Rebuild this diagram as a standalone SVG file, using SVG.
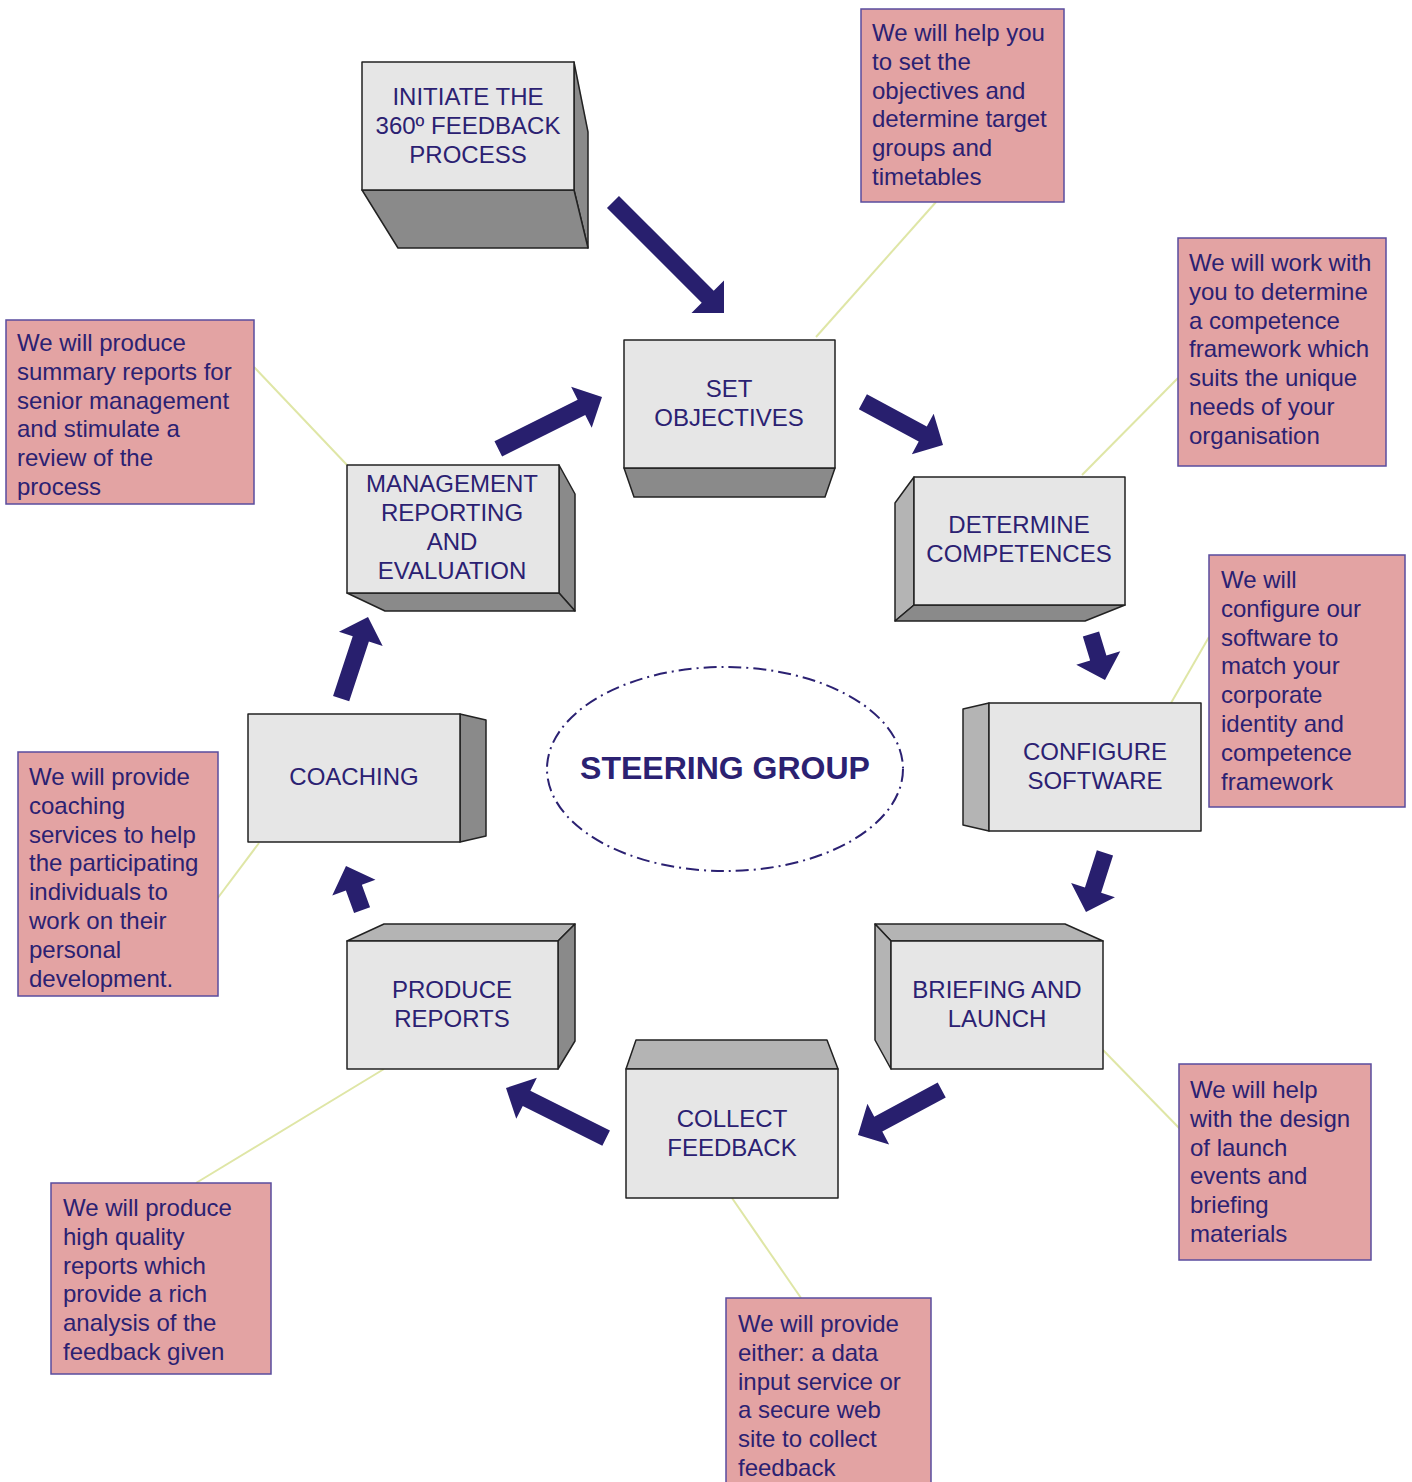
<svg xmlns="http://www.w3.org/2000/svg" width="1412" height="1482" viewBox="0 0 1412 1482">
<style>
.front{fill:#e6e6e6;stroke:#222;stroke-width:1.5;stroke-linejoin:round}
.dark{fill:#8a8a8a;stroke:#222;stroke-width:1.5;stroke-linejoin:round}
.light{fill:#b4b4b4;stroke:#222;stroke-width:1.5;stroke-linejoin:round}
.lbl{font-family:"Liberation Sans",Arial,sans-serif;font-size:24px;fill:#2b2172;text-anchor:middle}
.note rect{fill:#e3a3a3;stroke:#5a4c9e;stroke-width:1.5}
.note text{font-family:"Liberation Sans",Arial,sans-serif;font-size:24px;fill:#2b2172}
.leader{stroke:#dfe6a6;stroke-width:2;fill:none}
.arrow{fill:#281f6e}
</style>
<rect width="1412" height="1482" fill="#fff"/>

<g id="leaders">
<line class="leader" x1="936" y1="202" x2="816" y2="337"/>
<line class="leader" x1="1178" y1="378" x2="1082" y2="475"/>
<line class="leader" x1="1209" y1="637" x2="1171" y2="703"/>
<line class="leader" x1="1103" y1="1050" x2="1181" y2="1130"/>
<line class="leader" x1="732" y1="1198" x2="801" y2="1298"/>
<line class="leader" x1="384" y1="1069" x2="196" y2="1183"/>
<line class="leader" x1="259" y1="843" x2="214" y2="903"/>
<line class="leader" x1="254" y1="367" x2="347" y2="465"/>
</g>

<g id="n-initiate">
<polygon class="dark" points="574,62 588,132 588,248 574,190"/>
<polygon class="dark" points="362,190 574,190 588,248 398,248"/>
<rect class="front" x="362" y="62" width="212" height="128"/>
<text class="lbl" x="468" y="105">INITIATE THE</text>
<text class="lbl" x="468" y="134">360º FEEDBACK</text>
<text class="lbl" x="468" y="163">PROCESS</text>
</g>

<g id="n-set">
<polygon class="dark" points="624,468 835,468 825,497 634,497"/>
<rect class="front" x="624" y="340" width="211" height="128"/>
<text class="lbl" x="729" y="397">SET</text>
<text class="lbl" x="729" y="426">OBJECTIVES</text>
</g>

<g id="n-determine">
<polygon class="light" points="914,477 895,503 895,621 914,605"/>
<polygon class="dark" points="914,605 1125,605 1085,621 895,621"/>
<rect class="front" x="914" y="477" width="211" height="128"/>
<text class="lbl" x="1019" y="533">DETERMINE</text>
<text class="lbl" x="1019" y="562">COMPETENCES</text>
</g>

<g id="n-configure">
<polygon class="light" points="989,703 963,709 963,825 989,831"/>
<rect class="front" x="989" y="703" width="212" height="128"/>
<text class="lbl" x="1095" y="760">CONFIGURE</text>
<text class="lbl" x="1095" y="789">SOFTWARE</text>
</g>

<g id="n-briefing">
<polygon class="light" points="875,924 1065,924 1103,941 891,941"/>
<polygon class="light" points="875,924 891,941 891,1069 875,1040"/>
<rect class="front" x="891" y="941" width="212" height="128"/>
<text class="lbl" x="997" y="998">BRIEFING AND</text>
<text class="lbl" x="997" y="1027">LAUNCH</text>
</g>

<g id="n-collect">
<polygon class="light" points="636,1040 827,1040 838,1069 626,1069"/>
<rect class="front" x="626" y="1069" width="212" height="129"/>
<text class="lbl" x="732" y="1127">COLLECT</text>
<text class="lbl" x="732" y="1156">FEEDBACK</text>
</g>

<g id="n-produce">
<polygon class="light" points="347,941 384,924 575,924 558,941"/>
<polygon class="dark" points="558,941 575,924 575,1041 558,1069"/>
<rect class="front" x="347" y="941" width="211" height="128"/>
<text class="lbl" x="452" y="998">PRODUCE</text>
<text class="lbl" x="452" y="1027">REPORTS</text>
</g>

<g id="n-coaching">
<polygon class="dark" points="460,714 486,720 486,836 460,842"/>
<rect class="front" x="248" y="714" width="212" height="128"/>
<text class="lbl" x="354" y="785">COACHING</text>
</g>

<g id="n-management">
<polygon class="dark" points="559,465 575,494 575,611 559,593"/>
<polygon class="dark" points="347,593 559,593 575,611 385,611"/>
<rect class="front" x="347" y="465" width="212" height="128"/>
<text class="lbl" x="452" y="492">MANAGEMENT</text>
<text class="lbl" x="452" y="521">REPORTING</text>
<text class="lbl" x="452" y="550">AND</text>
<text class="lbl" x="452" y="579">EVALUATION</text>
</g>

<g id="n-steering">
<ellipse cx="725" cy="769" rx="178" ry="102" fill="none" stroke="#2b2172" stroke-width="2" stroke-dasharray="13 5 2 5"/>
<text x="725" y="779" text-anchor="middle" font-family="Liberation Sans, Arial, sans-serif" font-size="32" font-weight="bold" fill="#2b2172">STEERING GROUP</text>
</g>

<g id="connectors">
<path class="arrow" transform="translate(724,313) rotate(45)" d="M0,0 L-23,-23 L-23,-8.5 L-157,-8.5 L-157,8.5 L-23,8.5 L-23,23 Z"/>
<path class="arrow" transform="translate(943,445) rotate(28.3)" d="M0,0 L-23,-23 L-23,-8.5 L-91,-8.5 L-91,8.5 L-23,8.5 L-23,23 Z"/>
<path class="arrow" transform="translate(1105,680) rotate(73)" d="M0,0 L-23,-23 L-23,-8.5 L-48,-8.5 L-48,8.5 L-23,8.5 L-23,23 Z"/>
<path class="arrow" transform="translate(1086,912) rotate(107.8)" d="M0,0 L-23,-23 L-23,-8.5 L-62,-8.5 L-62,8.5 L-23,8.5 L-23,23 Z"/>
<path class="arrow" transform="translate(858,1135) rotate(151.8)" d="M0,0 L-23,-23 L-23,-8.5 L-95,-8.5 L-95,8.5 L-23,8.5 L-23,23 Z"/>
<path class="arrow" transform="translate(506,1088) rotate(206.6)" d="M0,0 L-23,-23 L-23,-8.5 L-112,-8.5 L-112,8.5 L-23,8.5 L-23,23 Z"/>
<path class="arrow" transform="translate(346,866) rotate(-110)" d="M0,0 L-23,-23 L-23,-8.5 L-47,-8.5 L-47,8.5 L-23,8.5 L-23,23 Z"/>
<path class="arrow" transform="translate(368,617) rotate(-71.8)" d="M0,0 L-23,-23 L-23,-8.5 L-86,-8.5 L-86,8.5 L-23,8.5 L-23,23 Z"/>
<path class="arrow" transform="translate(602,397) rotate(-26.6)" d="M0,0 L-23,-23 L-23,-8.5 L-116,-8.5 L-116,8.5 L-23,8.5 L-23,23 Z"/>
</g>

<g id="c-objectives" class="note">
<rect x="861" y="9" width="203" height="193"/>
<text x="872" y="41"><tspan x="872">We will help you</tspan><tspan x="872" dy="28.8">to set the</tspan><tspan x="872" dy="28.8">objectives and</tspan><tspan x="872" dy="28.8">determine target</tspan><tspan x="872" dy="28.8">groups and</tspan><tspan x="872" dy="28.8">timetables</tspan></text>
</g>

<g id="c-competences" class="note">
<rect x="1178" y="238" width="208" height="228"/>
<text x="1189" y="271"><tspan x="1189">We will work with</tspan><tspan x="1189" dy="28.8">you to determine</tspan><tspan x="1189" dy="28.8">a competence</tspan><tspan x="1189" dy="28.8">framework which</tspan><tspan x="1189" dy="28.8">suits the unique</tspan><tspan x="1189" dy="28.8">needs of your</tspan><tspan x="1189" dy="28.8">organisation</tspan></text>
</g>

<g id="c-software" class="note">
<rect x="1209" y="555" width="196" height="252"/>
<text x="1221" y="588"><tspan x="1221">We will</tspan><tspan x="1221" dy="28.8">configure our</tspan><tspan x="1221" dy="28.8">software to</tspan><tspan x="1221" dy="28.8">match your</tspan><tspan x="1221" dy="28.8">corporate</tspan><tspan x="1221" dy="28.8">identity and</tspan><tspan x="1221" dy="28.8">competence</tspan><tspan x="1221" dy="28.8">framework</tspan></text>
</g>

<g id="c-launch" class="note">
<rect x="1179" y="1064" width="192" height="196"/>
<text x="1190" y="1098"><tspan x="1190">We will help</tspan><tspan x="1190" dy="28.8">with the design</tspan><tspan x="1190" dy="28.8">of launch</tspan><tspan x="1190" dy="28.8">events and</tspan><tspan x="1190" dy="28.8">briefing</tspan><tspan x="1190" dy="28.8">materials</tspan></text>
</g>

<g id="c-feedback" class="note">
<rect x="726" y="1298" width="205" height="200"/>
<text x="738" y="1332"><tspan x="738">We will provide</tspan><tspan x="738" dy="28.8">either: a data</tspan><tspan x="738" dy="28.8">input service or</tspan><tspan x="738" dy="28.8">a secure web</tspan><tspan x="738" dy="28.8">site to collect</tspan><tspan x="738" dy="28.8">feedback</tspan></text>
</g>

<g id="c-reports" class="note">
<rect x="51" y="1183" width="220" height="191"/>
<text x="63" y="1216"><tspan x="63">We will produce</tspan><tspan x="63" dy="28.8">high quality</tspan><tspan x="63" dy="28.8">reports which</tspan><tspan x="63" dy="28.8">provide a rich</tspan><tspan x="63" dy="28.8">analysis of the</tspan><tspan x="63" dy="28.8">feedback given</tspan></text>
</g>

<g id="c-coaching" class="note">
<rect x="18" y="752" width="200" height="244"/>
<text x="29" y="785"><tspan x="29">We will provide</tspan><tspan x="29" dy="28.8">coaching</tspan><tspan x="29" dy="28.8">services to help</tspan><tspan x="29" dy="28.8">the participating</tspan><tspan x="29" dy="28.8">individuals to</tspan><tspan x="29" dy="28.8">work on their</tspan><tspan x="29" dy="28.8">personal</tspan><tspan x="29" dy="28.8">development.</tspan></text>
</g>

<g id="c-management" class="note">
<rect x="6" y="320" width="248" height="184"/>
<text x="17" y="351"><tspan x="17">We will produce</tspan><tspan x="17" dy="28.8">summary reports for</tspan><tspan x="17" dy="28.8">senior management</tspan><tspan x="17" dy="28.8">and stimulate a</tspan><tspan x="17" dy="28.8">review of the</tspan><tspan x="17" dy="28.8">process</tspan></text>
</g>
</svg>
